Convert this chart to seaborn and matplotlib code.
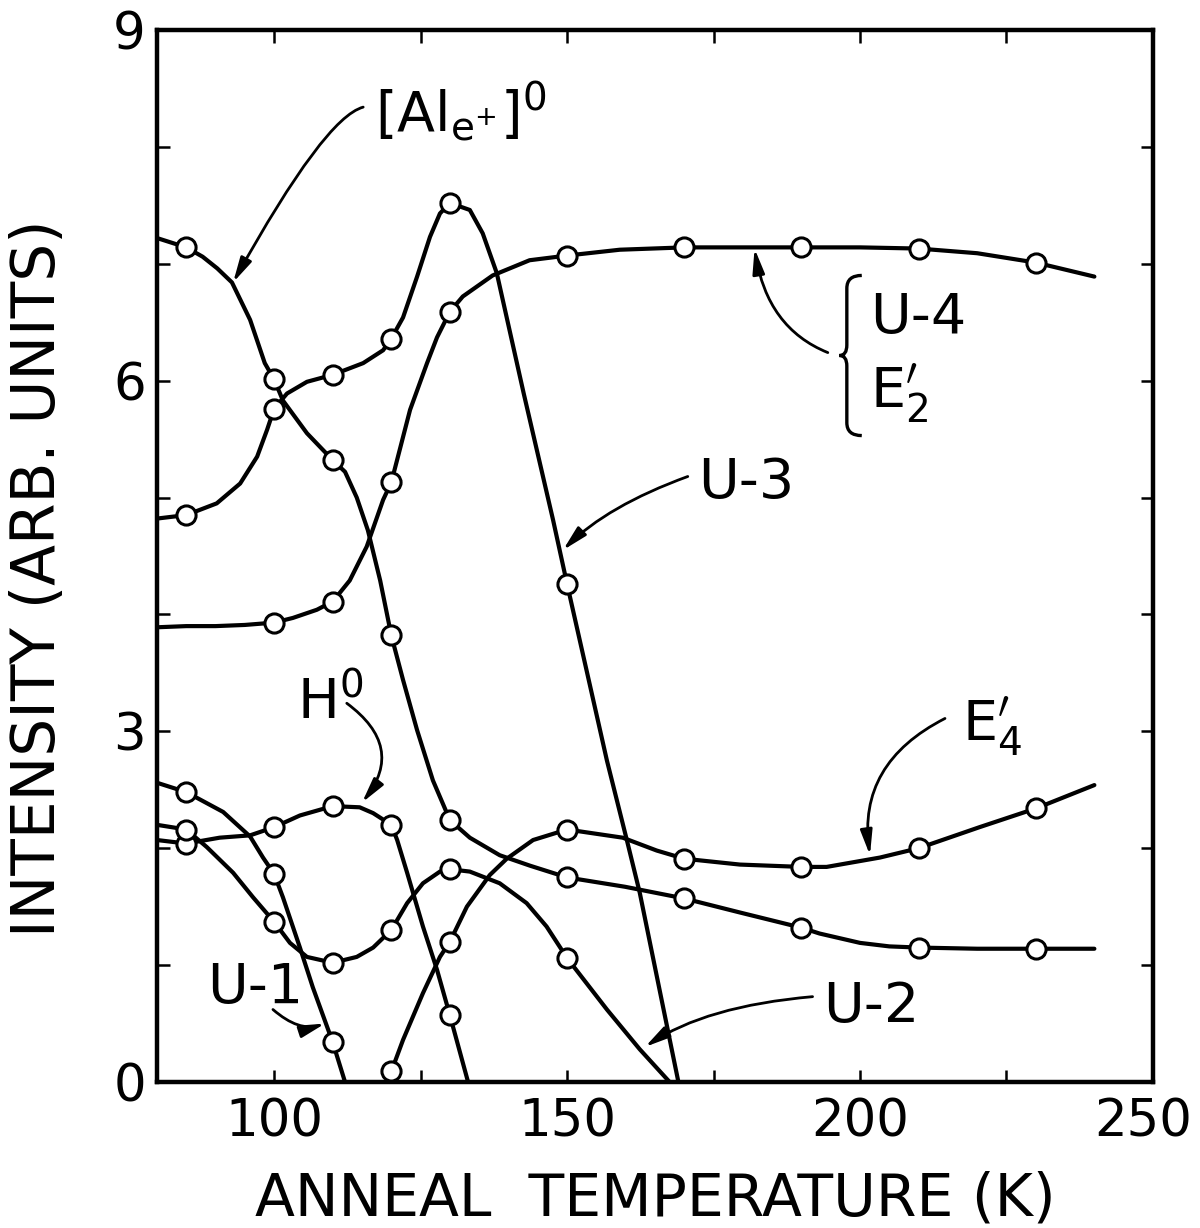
import matplotlib
matplotlib.use("Agg")
import matplotlib.pyplot as plt
from matplotlib.path import Path
from matplotlib.patches import PathPatch
from matplotlib.transforms import ScaledTranslation
import seaborn as sns

# traced curves (temperature K, intensity arb. units) and the measured points on them
al_curve_t = [80, 85, 87.8, 90.3, 92.8, 95.9, 98.4, 100, 101.5, 105.6, 110, 112.1, 114.1, 116, 118.1, 120,
              122, 124.4, 127.1, 130, 133.4, 138.5, 143.7, 150, 159.9, 170, 179.5, 190, 193.1, 200,
              205, 210, 220, 230, 240]
al_curve_i = [7.22, 7.14, 7.06, 6.96, 6.84, 6.52, 6.15, 6.01, 5.83, 5.55, 5.32, 5.22, 5.00, 4.72, 4.29, 3.82,
              3.44, 3.01, 2.58, 2.24, 2.09, 1.94, 1.85, 1.75, 1.67, 1.57, 1.45, 1.32, 1.27, 1.19,
              1.16, 1.15, 1.14, 1.14, 1.14]
al_mark_t = [85, 100, 110, 120, 130, 150, 170, 190, 210, 230]
al_mark_i = [7.14, 6.01, 5.32, 3.82, 2.24, 1.75, 1.57, 1.32, 1.15, 1.14]

u4_curve_t = [80, 85, 90, 95, 100, 103.2, 107.3, 110, 112.9, 115.8, 118.6, 120, 123.2, 126.1, 127.8,
              130, 132.2, 137.3, 143.6, 150, 159, 170, 180, 190, 200, 210, 220, 230, 240]
u4_curve_i = [3.89, 3.90, 3.90, 3.91, 3.93, 3.97, 4.04, 4.11, 4.29, 4.58, 4.98, 5.13, 5.75, 6.15, 6.37,
              6.59, 6.72, 6.90, 7.03, 7.07, 7.12, 7.14, 7.14, 7.14, 7.14, 7.13, 7.09, 7.01, 6.89]
u4_mark_t = [100, 110, 120, 130, 150, 170, 190, 210, 230]
u4_mark_i = [3.93, 4.11, 5.13, 6.59, 7.07, 7.14, 7.14, 7.13, 7.01]

u3_curve_t = [80, 85, 90.2, 94.2, 97.1, 98.8, 100, 102.2, 105.6, 110, 115.2, 118.6, 120, 122, 124.4,
              126.6, 128.3, 130, 133.4, 135.6, 138, 142.6, 147.6, 150, 156.8, 160.2, 162.4, 169]
u3_curve_i = [4.82, 4.85, 4.95, 5.12, 5.35, 5.58, 5.76, 5.89, 5.99, 6.05, 6.15, 6.26, 6.36, 6.54, 6.89,
              7.23, 7.43, 7.52, 7.46, 7.26, 6.92, 5.89, 4.81, 4.26, 2.75, 2.07, 1.62, 0.0]
u3_mark_t = [85, 100, 110, 120, 130, 150]
u3_mark_i = [4.85, 5.76, 6.05, 6.36, 7.52, 4.26]

h0_curve_t = [80, 85, 90.7, 95.9, 100, 104.4, 110, 114.6, 116.9, 120, 121, 122.7, 125.4, 127.8, 130, 133.1]
h0_curve_i = [2.07, 2.04, 2.09, 2.11, 2.18, 2.28, 2.36, 2.35, 2.30, 2.20, 2.07, 1.79, 1.33, 0.96, 0.57, 0.0]
h0_mark_t = [85, 100, 110, 120, 130]
h0_mark_i = [2.04, 2.18, 2.36, 2.20, 0.57]

u1_curve_t = [80, 85, 91.3, 95.9, 98.1, 100, 101.5, 104.4, 106.6, 110, 112.1]
u1_curve_i = [2.56, 2.48, 2.31, 2.10, 1.92, 1.78, 1.58, 1.15, 0.81, 0.34, 0.0]
u1_mark_t = [85, 100, 110]
u1_mark_i = [2.48, 1.78, 0.34]

u2_curve_t = [80, 85, 88.5, 93, 96.4, 100, 102.7, 105.6, 110, 114.1, 116.9, 120, 122.7, 125.4, 128.3,
              130, 133.4, 138.5, 143.1, 146.5, 150, 156.8, 162.4, 167.5]
u2_curve_i = [2.20, 2.16, 2.01, 1.79, 1.58, 1.37, 1.19, 1.07, 1.02, 1.07, 1.15, 1.30, 1.53, 1.70, 1.80,
              1.82, 1.80, 1.70, 1.53, 1.33, 1.06, 0.62, 0.28, 0.0]
u2_mark_t = [85, 100, 110, 120, 130, 150]
u2_mark_i = [2.16, 1.37, 1.02, 1.30, 1.82, 1.06]

e4_curve_t = [120, 122, 125.4, 128.3, 130, 132.9, 136.8, 139.7, 144.2, 150, 159.5, 165.3, 170, 179.5,
              190, 194.3, 203.4, 210, 220.4, 230, 240]
e4_curve_i = [0.09, 0.36, 0.76, 1.07, 1.20, 1.50, 1.77, 1.91, 2.07, 2.16, 2.09, 1.98, 1.91, 1.86,
              1.84, 1.84, 1.92, 2.00, 2.18, 2.34, 2.54]
e4_mark_t = [120, 130, 150, 170, 190, 210, 230]
e4_mark_i = [0.09, 1.20, 2.16, 1.91, 1.84, 2.00, 2.34]

x_ticks = [100, 125, 150, 175, 200, 225, 250]
x_labels = ["100", "", "150", "", "200", "", "250"]
y_ticks = [0, 1, 2, 3, 4, 5, 6, 7, 8, 9]
y_labels = ["0", "", "", "3", "", "", "6", "", "", "9"]

sns.set_style("white")
plt.rcParams["font.family"] = ["DejaVu Sans"]
plt.rcParams["mathtext.fontset"] = "dejavusans"
for key in ["text.color", "axes.labelcolor", "xtick.color", "ytick.color", "axes.edgecolor"]:
    plt.rcParams[key] = "black"

fig = plt.figure(figsize=(12, 12.28), dpi=100)
ax = fig.add_axes([0.1308, 0.1189, 0.83, 0.8567])

series = [
    (al_curve_t, al_curve_i, al_mark_t, al_mark_i),
    (u4_curve_t, u4_curve_i, u4_mark_t, u4_mark_i),
    (u3_curve_t, u3_curve_i, u3_mark_t, u3_mark_i),
    (h0_curve_t, h0_curve_i, h0_mark_t, h0_mark_i),
    (u1_curve_t, u1_curve_i, u1_mark_t, u1_mark_i),
    (u2_curve_t, u2_curve_i, u2_mark_t, u2_mark_i),
    (e4_curve_t, e4_curve_i, e4_mark_t, e4_mark_i),
]
for ct, ci, mt, mi in series:
    sns.lineplot(x=ct, y=ci, ax=ax, color="black", linewidth=3.0,
                 sort=False, estimator=None, zorder=2)
    sns.scatterplot(x=mt, y=mi, ax=ax, s=190, marker="o", color="white",
                    edgecolor="black", linewidth=2.2, zorder=3, clip_on=False)

ax.set_xlim(80, 250)
ax.set_ylim(0, 9)
ax.set_xticks(x_ticks)
ax.set_xticklabels(x_labels)
ax.set_yticks(y_ticks)
ax.set_yticklabels(y_labels)
ax.tick_params(axis="both", direction="in", length=9, width=1.8, color="black",
               labelcolor="black", top=True, right=True, bottom=True, left=True,
               labelsize=37)
ax.tick_params(axis="x", pad=11)
ax.tick_params(axis="y", pad=8)
for sp in ax.spines.values():
    sp.set_linewidth(3.2)
    sp.set_color("black")

# keep the last x label inside the canvas
last = ax.get_xticklabels()[-1]
last.set_transform(last.get_transform() + ScaledTranslation(-7 / 72, 0, fig.dpi_scale_trans))

ax.set_xlabel("ANNEAL  TEMPERATURE (K)", fontsize=42, color="black")
ax.set_ylabel("INTENSITY (ARB. UNITS)", fontsize=43, color="black")
ax.xaxis.set_label_coords(0.5, -0.0837)
ax.yaxis.set_label_coords(-0.089, 0.479)

# curve labels
txt = dict(fontsize=40, ha="left", va="baseline", color="black")
ax.text(117.3, 8.14, r"$[\mathrm{Al}_{\mathrm{e}^{+}}]^{0}$", **txt)
ax.text(103.9, 3.10, r"$\mathrm{H}^{0}$", **txt)
ax.text(88.5, 0.68, "U-1", **txt)
ax.text(193.7, 0.51, "U-2", **txt)
ax.text(172.3, 5.00, "U-3", **txt)
ax.text(201.7, 6.41, "U-4", **txt)
ax.text(201.7, 5.77, r"$\mathrm{E}^{\prime}_{2}$", **txt)
ax.text(217.4, 2.93, r"$\mathrm{E}^{\prime}_{4}$", **txt)

# leader arrows: (tip, start, angleA, angleB)
leaders = [
    ((93.0, 6.84), (115.2, 8.34), 15, 61),
    ((115.0, 2.39), (112.4, 3.24), -36.5, 52),
    ((108.7, 0.50), (99.8, 0.62), -41, 18),
    ((163.3, 0.30), (191.9, 0.73), 5, 34),
    ((149.3, 4.55), (170.6, 5.18), 20, 45),
    ((182.0, 7.13), (194.5, 6.24), 158, 99),
    ((201.7, 1.94), (214.5, 3.11), 27, 98),
]
for tip, start, a, b in leaders:
    ax.annotate("", xy=tip, xytext=start,
                arrowprops=dict(arrowstyle="-|>,head_length=0.75,head_width=0.18",
                                color="black", lw=2.0, shrinkA=0, shrinkB=0,
                                mutation_scale=20,
                                connectionstyle=f"angle3,angleA={a},angleB={b}"))


def draw_brace(ax, x, x_tip, x_end, y_bot, y_top, hook=0.11, mid=0.09):
    y_mid = (y_bot + y_top) / 2
    verts = [(x_end, y_top), (x, y_top), (x, y_top - hook),
             (x, y_mid + mid), (x, y_mid), (x_tip, y_mid),
             (x, y_mid), (x, y_mid - mid),
             (x, y_bot + hook), (x, y_bot), (x_end, y_bot)]
    codes = [Path.MOVETO, Path.CURVE3, Path.CURVE3,
             Path.LINETO, Path.CURVE3, Path.CURVE3,
             Path.CURVE3, Path.CURVE3,
             Path.LINETO, Path.CURVE3, Path.CURVE3]
    ax.add_patch(PathPatch(Path(verts, codes), fill=False, lw=2.4, color="black"))


draw_brace(ax, 197.75, 196.5, 200.3, 5.53, 6.90)

fig.savefig("out.png", dpi=100)
